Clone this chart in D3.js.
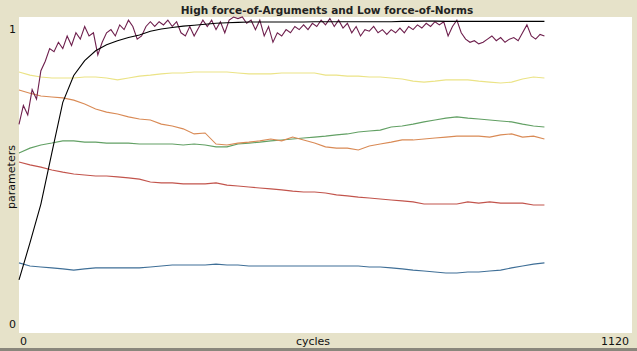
<!DOCTYPE html>
<html>
<head>
<meta charset="utf-8">
<script src="https://cdn.jsdelivr.net/npm/d3@7"></script>
<style>
  body { margin: 0; background: #e6e2c9; }
  svg { display: block; font-family: "DejaVu Sans", sans-serif; }
</style>
</head>
<body>
<div id="chart"></div>
<script>
// plot text
const title = "High force-of-Arguments and Low force-of-Norms";
const xLabel = "cycles";
const yLabel = "parameters";
const xDomain = [0, 1120];
const yDomain = [0, 1];

// smooth series sampled every 20 cycles
const smoothCycles = d3.range(0, 961, 20);
const blackVals = [0.168,0.285,0.408,0.57,0.73,0.815,0.862,0.893,0.912,0.925,0.935,0.943,0.955,0.962,0.967,0.971,0.974,0.977,0.980,0.982,0.983,0.984,0.984,0.984,0.984,0.984,0.984,0.985,0.985,0.985,0.985,0.985,0.985,0.985,0.985,0.986,0.986,0.987,0.987,0.986,0.986,0.986,0.986,0.986,0.986,0.986,0.986,0.986,0.986];
const yellowVals = [0.826,0.816,0.810,0.807,0.807,0.807,0.810,0.810,0.807,0.801,0.807,0.813,0.816,0.820,0.823,0.823,0.826,0.826,0.826,0.826,0.823,0.820,0.820,0.820,0.823,0.823,0.823,0.823,0.816,0.816,0.813,0.813,0.810,0.810,0.807,0.804,0.797,0.794,0.797,0.801,0.801,0.801,0.797,0.794,0.791,0.794,0.804,0.810,0.807];
const orangeVals = [0.769,0.759,0.750,0.747,0.744,0.737,0.725,0.709,0.699,0.693,0.684,0.677,0.674,0.661,0.655,0.646,0.630,0.633,0.598,0.595,0.601,0.604,0.608,0.614,0.608,0.620,0.611,0.601,0.589,0.585,0.585,0.579,0.592,0.598,0.604,0.611,0.611,0.614,0.617,0.620,0.623,0.623,0.623,0.620,0.627,0.630,0.620,0.623,0.614];
const greenVals = [0.570,0.585,0.595,0.601,0.608,0.608,0.604,0.604,0.601,0.601,0.601,0.598,0.598,0.598,0.598,0.595,0.598,0.595,0.589,0.589,0.598,0.601,0.604,0.608,0.611,0.614,0.617,0.620,0.623,0.627,0.630,0.636,0.639,0.642,0.652,0.655,0.661,0.668,0.674,0.680,0.684,0.680,0.677,0.674,0.671,0.668,0.661,0.655,0.652];
const redVals = [0.541,0.532,0.525,0.516,0.509,0.503,0.500,0.497,0.497,0.494,0.491,0.487,0.478,0.475,0.475,0.472,0.472,0.472,0.475,0.468,0.465,0.462,0.459,0.456,0.453,0.449,0.446,0.446,0.443,0.437,0.434,0.430,0.427,0.424,0.421,0.418,0.415,0.408,0.408,0.408,0.408,0.415,0.411,0.415,0.411,0.411,0.411,0.405,0.405];
const blueVals = [0.222,0.212,0.209,0.206,0.203,0.199,0.203,0.206,0.206,0.206,0.206,0.206,0.209,0.212,0.215,0.215,0.215,0.215,0.218,0.215,0.215,0.212,0.212,0.212,0.212,0.212,0.212,0.212,0.212,0.212,0.212,0.212,0.209,0.209,0.206,0.203,0.199,0.196,0.193,0.190,0.190,0.193,0.193,0.196,0.199,0.206,0.212,0.218,0.222];

// noisy series sampled every 8 cycles
const purpleCycles = d3.range(0, 961, 8);
const purpleVals = [0.66,0.72,0.69,0.77,0.74,0.83,0.86,0.90,0.89,0.92,0.90,0.94,0.91,0.95,0.93,0.97,0.94,0.95,0.88,0.92,
  0.95,0.96,0.94,0.975,0.96,0.99,0.97,0.93,0.94,0.97,0.985,0.97,0.985,0.975,0.99,0.97,0.985,0.95,0.94,0.97,
  0.94,0.965,0.99,0.97,0.99,0.96,0.985,0.95,0.99,1.0,0.995,1.0,0.98,0.99,0.96,0.99,0.94,0.97,0.92,0.95,
  0.94,0.96,0.95,0.97,0.96,0.975,0.96,0.98,0.97,0.99,0.975,0.995,0.97,0.99,0.965,0.98,0.95,0.97,0.94,0.96,
  0.955,0.97,0.95,0.96,0.945,0.96,0.95,0.965,0.95,0.97,0.96,0.975,0.965,0.98,0.97,0.985,0.975,0.985,0.94,0.97,
  0.99,0.95,0.93,0.92,0.925,0.915,0.92,0.93,0.94,0.925,0.935,0.92,0.93,0.935,0.925,0.95,0.975,0.94,0.93,0.945,
  0.94];

const series = [
  {name: "blue", cycles: smoothCycles, vals: blueVals, color: "#3f6f97"},
  {name: "red", cycles: smoothCycles, vals: redVals, color: "#c2544c"},
  {name: "green", cycles: smoothCycles, vals: greenVals, color: "#62a064"},
  {name: "orange", cycles: smoothCycles, vals: orangeVals, color: "#d98a55"},
  {name: "yellow", cycles: smoothCycles, vals: yellowVals, color: "#ebe386"},
  {name: "purple", cycles: purpleCycles, vals: purpleVals, color: "#6e1f4d"},
  {name: "black", cycles: smoothCycles, vals: blackVals, color: "#000000"}
];

const W = 637, H = 351;
const plot = {left: 19, right: 632, top: 17, bottom: 333};

const svg = d3.select("#chart").append("svg")
  .attr("width", W)
  .attr("height", H);

svg.append("rect")
  .attr("width", W).attr("height", H)
  .attr("fill", "#e6e2c9");

// bottom edge
svg.append("rect")
  .attr("x", 0).attr("y", 348).attr("width", W).attr("height", 3)
  .attr("fill", "#8a877c");

svg.append("rect")
  .attr("x", plot.left).attr("y", plot.top)
  .attr("width", plot.right - plot.left).attr("height", plot.bottom - plot.top)
  .attr("fill", "#ffffff");

const x = d3.scaleLinear().domain(xDomain).range([plot.left, plot.right]);
const y = d3.scaleLinear().domain(yDomain).range([plot.bottom, plot.top]);

const line = d3.line()
  .x(d => x(d[0]))
  .y(d => y(d[1]));

series.forEach(s => {
  svg.append("path")
    .datum(s.cycles.map((c, i) => [c, s.vals[i]]))
    .attr("fill", "none")
    .attr("stroke", s.color)
    .attr("stroke-width", 1.1)
    .attr("d", line);
});

// texts
svg.append("text")
  .attr("x", 327).attr("y", 14)
  .attr("text-anchor", "middle")
  .style("font-size", "10.5px")
  .style("font-weight", "bold")
  .attr("fill", "#222")
  .text(title);

svg.append("text")
  .attr("x", 12.5).attr("y", 33)
  .attr("text-anchor", "middle")
  .style("font-size", "11px")
  .attr("fill", "#111")
  .text(yDomain[1]);

svg.append("text")
  .attr("x", 12.5).attr("y", 328)
  .attr("text-anchor", "middle")
  .style("font-size", "11px")
  .attr("fill", "#111")
  .text(yDomain[0]);

svg.append("text")
  .attr("x", 20).attr("y", 345)
  .attr("text-anchor", "start")
  .style("font-size", "11px")
  .attr("fill", "#111")
  .text(xDomain[0]);

svg.append("text")
  .attr("x", 629).attr("y", 345)
  .attr("text-anchor", "end")
  .style("font-size", "11px")
  .attr("fill", "#111")
  .text(xDomain[1]);

svg.append("text")
  .attr("x", 313).attr("y", 345)
  .attr("text-anchor", "middle")
  .style("font-size", "11px")
  .attr("fill", "#111")
  .text(xLabel);

svg.append("text")
  .attr("transform", "translate(15,177)rotate(-90)")
  .attr("text-anchor", "middle")
  .style("font-size", "11px")
  .attr("fill", "#111")
  .text(yLabel);
</script>
</body>
</html>
